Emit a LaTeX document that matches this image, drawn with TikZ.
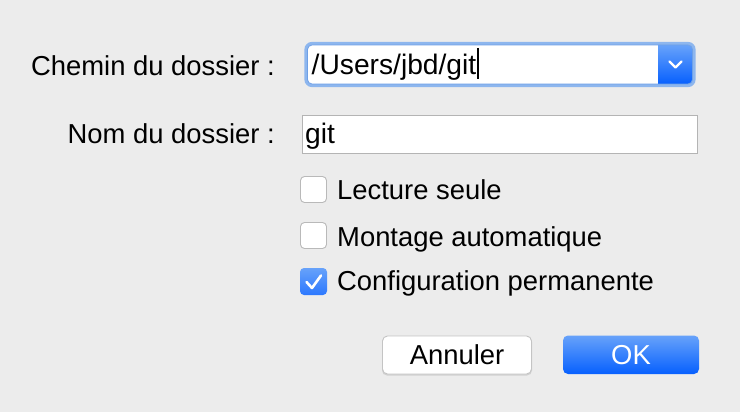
\documentclass[tikz,border=0pt]{standalone}
\usepackage{fontspec}
\setmainfont{Liberation Sans}
\definecolor{bg}{HTML}{ECECEC}
\definecolor{txt}{HTML}{000000}
\definecolor{fieldborder}{HTML}{B4B4B4}
\definecolor{ringc}{HTML}{8DB6EE}
\definecolor{ringin}{HTML}{6FA0E6}
\definecolor{bluetop}{HTML}{67A2FA}
\definecolor{bluebot}{HTML}{0760FE}
\definecolor{boxborder}{HTML}{B9B9B9}
\definecolor{btnborder}{HTML}{C4C4C4}
\tikzset{
  lbl/.style={inner sep=0pt, text=txt, font=\fontsize{27.4}{31}\selectfont},
  fieldtxt/.style={inner sep=0pt, text=black, font=\fontsize{28.2}{32}\selectfont},
  checkbox/.style={fill=white, draw=boxborder, line width=0.9pt, rounded corners=4pt},
  checkedbox/.style={top color=bluetop, bottom color=bluebot!85!white, draw=none, rounded corners=4pt},
  btnwhite/.style={fill=white, draw=btnborder, line width=0.9pt, rounded corners=5pt},
  btnblue/.style={top color=bluetop, bottom color=bluebot, draw=none, rounded corners=5pt},
  mark line/.style={white, line width=2.6pt, line cap=round, line join=round}
}
\begin{document}
\begin{tikzpicture}[x=1pt,y=-1pt]
\fill[bg] (0,0) rectangle (740,412);
\useasboundingbox (0,0) rectangle (740,412);

% labels
\node[lbl, anchor=base east] (lchemin) at (275,76) {Chemin du dossier :};
\node[lbl, anchor=base east] (lnom) at (275,143) {Nom du dossier :};

% combo box
\draw[ringc, line width=3.2pt, rounded corners=6pt] (306,43.5) rectangle (694,85.5);
\begin{scope}
  \clip[rounded corners=4.5pt] (307.5,45) rectangle (692.5,84);
  \fill[white] (307.5,45) rectangle (692.5,84);
  \shade[top color=bluetop, bottom color=bluebot] (658,45) rectangle (692.5,84);
\end{scope}
\draw[ringin, line width=0.8pt, rounded corners=4.5pt] (307.5,45) rectangle (692.5,84);
\draw[mark line, line width=2.3pt] (669.5,61.5) -- (675.5,67.5) -- (681.5,61.5);
\node[fieldtxt, anchor=base west] (path) at (311.5,75) {/Users/jbd/git};
\draw[black, line width=1.2pt] (478,48) -- (478,79);

% text field
\draw[fill=white, draw=fieldborder, line width=1pt] (302.5,115.5) rectangle (697.5,153.5);
\node[fieldtxt, anchor=base west] (name) at (305,143) {git};

% checkboxes
\draw[checkbox] (300.5,176.5) rectangle (326.5,202.5);
\node[lbl, anchor=base west] (c1) at (337,200) {Lecture seule};
\draw[checkbox] (300.5,222.5) rectangle (326.5,248.5);
\node[lbl, anchor=base west] (c2) at (337,246) {Montage automatique};
\shade[checkedbox] (300,268) rectangle (327,295);
\draw[mark line] (306.5,282) -- (312,288) -- (321,275.5);
\node[lbl, anchor=base west] (c3) at (337,290) {Configuration permanente};

% buttons
\fill[black!18, rounded corners=5pt] (382,337) rectangle (532,375.5);
\draw[btnwhite] (382.5,336) rectangle (531.5,374);
\node[lbl, anchor=base, text=black] (annuler) at (457,364) {Annuler};
\shade[btnblue] (563,335.5) rectangle (699,374);
\node[lbl, anchor=base, text=white] (ok) at (631,364) {OK};
\end{tikzpicture}
\end{document}
